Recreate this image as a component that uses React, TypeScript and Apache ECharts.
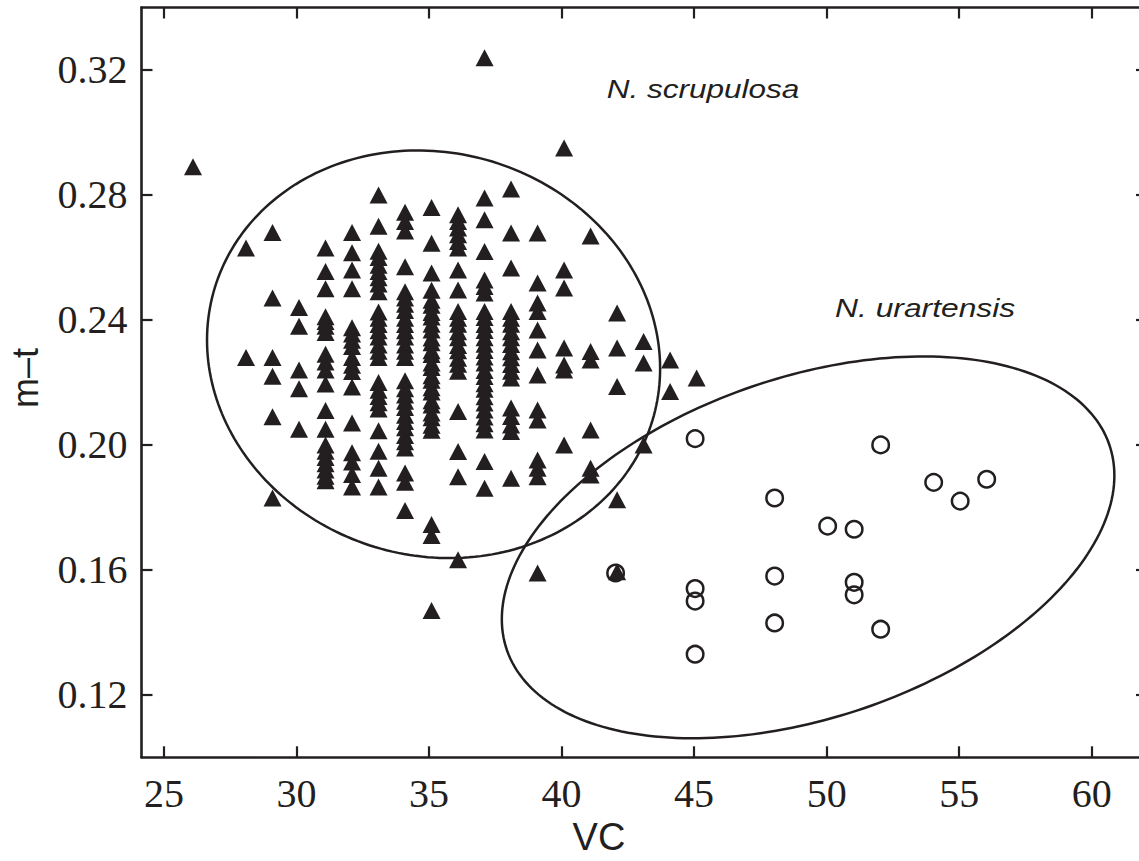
import React, { useEffect, useRef } from "react";
import * as echarts from "echarts";

// Axis ticks
const X_TICKS = [25, 30, 35, 40, 45, 50, 55, 60];
const Y_TICKS = [0.12, 0.16, 0.2, 0.24, 0.28, 0.32];

// N. scrupulosa (triangles): VC columns and their m–t values
const SCRUP_VC = [26, 28, 29, 30, 31, 32, 33, 34, 35, 36, 37, 38, 39, 40, 41, 42, 43, 44, 45];
const SCRUP_MT: number[][] = [
  [0.289],
  [0.263, 0.228],
  [0.268, 0.247, 0.228, 0.222, 0.209, 0.183],
  [0.244, 0.238, 0.224, 0.218, 0.205],
  [0.263, 0.2555, 0.25, 0.241, 0.2395, 0.238, 0.236, 0.229, 0.2265, 0.224, 0.2195, 0.211, 0.205, 0.2, 0.198, 0.196, 0.194, 0.192, 0.19, 0.1885],
  [0.268, 0.2615, 0.256, 0.25, 0.2375, 0.2355, 0.2335, 0.2315, 0.228, 0.2255, 0.2235, 0.2185, 0.207, 0.1975, 0.1945, 0.1905, 0.1865],
  [0.28, 0.27, 0.262, 0.26, 0.2575, 0.2555, 0.2535, 0.2515, 0.249, 0.2425, 0.2405, 0.2385, 0.2365, 0.2345, 0.232, 0.23, 0.228, 0.22, 0.2175, 0.2155, 0.2135, 0.2115, 0.2045, 0.198, 0.1925, 0.1865],
  [0.2745, 0.2715, 0.2685, 0.257, 0.249, 0.247, 0.245, 0.243, 0.2405, 0.2385, 0.2365, 0.2345, 0.232, 0.23, 0.228, 0.2205, 0.218, 0.216, 0.214, 0.212, 0.2095, 0.2075, 0.2055, 0.203, 0.201, 0.199, 0.191, 0.188, 0.179],
  [0.276, 0.2645, 0.255, 0.2495, 0.2463, 0.2447, 0.2424, 0.2409, 0.2386, 0.2368, 0.2342, 0.2327, 0.2301, 0.2289, 0.2262, 0.2248, 0.2221, 0.2207, 0.2183, 0.2169, 0.2141, 0.2128, 0.2102, 0.2087, 0.2063, 0.2047, 0.1745, 0.171, 0.147],
  [0.2737, 0.2715, 0.2694, 0.2673, 0.2651, 0.263, 0.256, 0.2496, 0.2427, 0.2405, 0.2386, 0.2362, 0.2343, 0.2318, 0.2301, 0.2277, 0.2258, 0.2236, 0.2107, 0.1979, 0.1898, 0.1632],
  [0.3239, 0.279, 0.2721, 0.2619, 0.2528, 0.2507, 0.2486, 0.2427, 0.2408, 0.2385, 0.2366, 0.2343, 0.2322, 0.2302, 0.2281, 0.2262, 0.2238, 0.2219, 0.2196, 0.2178, 0.2154, 0.2134, 0.2112, 0.2089, 0.2068, 0.2048, 0.1947, 0.1861],
  [0.2819, 0.2678, 0.2566, 0.2427, 0.2405, 0.2386, 0.2362, 0.2343, 0.2321, 0.2298, 0.2279, 0.2257, 0.2236, 0.2214, 0.2118, 0.2091, 0.2064, 0.2043, 0.1893],
  [0.2678, 0.2518, 0.2454, 0.2427, 0.2368, 0.2304, 0.2224, 0.2112, 0.208, 0.1952, 0.1925, 0.1898, 0.159],
  [0.295, 0.256, 0.2502, 0.231, 0.2256, 0.224, 0.2],
  [0.2669, 0.2299, 0.2272, 0.2048, 0.1925, 0.1904],
  [0.2422, 0.231, 0.2187, 0.1824, 0.1594],
  [0.2331, 0.2262, 0.2],
  [0.2272, 0.2171],
  [0.2214],
];

// N. urartensis (open circles)
const URART_VC = [45, 52, 54, 55, 56, 48, 50, 51, 42, 45, 45, 48, 51, 51, 48, 52, 45];
const URART_MT = [0.202, 0.2, 0.188, 0.182, 0.189, 0.183, 0.174, 0.173, 0.159, 0.154, 0.15, 0.158, 0.156, 0.152, 0.143, 0.141, 0.133];

// Ellipses: [centre VC, centre m–t, half-extent VC, half-extent m–t, phase (deg)]
const ELLIPSE_SCRUP = [35.17, 0.229, 8.547, 0.06524, 94];
const ELLIPSE_URART = [49.3, 0.1672, 11.555, 0.06111, 67.9];

const INK = "#231f20";

export default function App() {
  const ref = useRef<HTMLDivElement>(null);

  useEffect(() => {
    const chart = echarts.init(ref.current!, null, { renderer: "svg" });

    const scrupData: number[][] = [];
    SCRUP_VC.forEach((vc, i) => SCRUP_MT[i].forEach((mt) => scrupData.push([vc, mt])));
    const urartData = URART_VC.map((vc, i) => [vc, URART_MT[i]]);

    const xMin = 24.151;
    const xMax = 62.086;
    const yMin = 0.1;
    const yMax = 0.34;

    const lineStyle = { color: INK, width: 2.6 };
    const tickStyle = { color: INK, width: 2.2 };

    chart.setOption({
      animation: false,
      backgroundColor: "#ffffff",
      grid: {
        left: 141.5,
        top: 7.5,
        width: 1005.5,
        height: 749.8,
        outerBoundsMode: "none",
        containLabel: false,
      },
      xAxis: [
        {
          type: "value",
          position: "bottom",
          min: xMin,
          max: xMax,
          axisLine: { show: true, onZero: false, lineStyle },
          axisTick: { show: true, inside: true, length: 11, lineStyle: tickStyle, customValues: X_TICKS },
          axisLabel: {
            show: true,
            customValues: X_TICKS,
            margin: 16,
            fontFamily: "Liberation Serif",
            fontSize: 40,
            color: INK,
            formatter: (v: number) => String(Math.round(v)),
          },
          splitLine: { show: false },
        },
        {
          type: "value",
          position: "top",
          min: xMin,
          max: xMax,
          axisLine: { show: true, onZero: false, lineStyle },
          axisTick: { show: true, inside: true, length: 11, lineStyle: tickStyle, customValues: X_TICKS },
          axisLabel: { show: false },
          splitLine: { show: false },
        },
      ],
      yAxis: [
        {
          type: "value",
          position: "left",
          min: yMin,
          max: yMax,
          axisLine: { show: true, onZero: false, lineStyle },
          axisTick: { show: true, inside: true, length: 11, lineStyle: tickStyle, customValues: Y_TICKS },
          axisLabel: {
            show: true,
            customValues: Y_TICKS,
            margin: 14,
            fontFamily: "Liberation Serif",
            fontSize: 40,
            color: INK,
            formatter: (v: number) => v.toFixed(2),
          },
          splitLine: { show: false },
        },
        {
          type: "value",
          position: "right",
          min: yMin,
          max: yMax,
          axisLine: { show: true, onZero: false, lineStyle },
          axisTick: { show: true, inside: true, length: 11, lineStyle: tickStyle, customValues: Y_TICKS },
          axisLabel: { show: false },
          splitLine: { show: false },
        },
      ],
      graphic: [
        {
          type: "text",
          x: 606.7,
          y: 88.8,
          scaleX: 1.19,
          style: {
            text: "N. scrupulosa",
            font: 'italic 26.5px "Liberation Sans"',
            fill: INK,
            align: "left",
            verticalAlign: "middle",
          },
        },
        {
          type: "text",
          x: 835,
          y: 308.3,
          scaleX: 1.2,
          style: {
            text: "N. urartensis",
            font: 'italic 26.5px "Liberation Sans"',
            fill: INK,
            align: "left",
            verticalAlign: "middle",
          },
        },
        {
          type: "text",
          x: 599,
          y: 837,
          style: {
            text: "VC",
            font: '38px "Liberation Sans"',
            fill: INK,
            align: "center",
            verticalAlign: "middle",
          },
        },
        {
          type: "text",
          x: 25,
          y: 378,
          rotation: Math.PI / 2,
          style: {
            text: "m–t",
            font: '36px "Liberation Sans"',
            fill: INK,
            align: "center",
            verticalAlign: "middle",
          },
        },
      ],
      series: [
        {
          type: "custom",
          name: "ellipses",
          xAxisIndex: 0,
          yAxisIndex: 0,
          silent: true,
          clip: false,
          z: 1,
          data: [ELLIPSE_SCRUP, ELLIPSE_URART],
          encode: { x: 0, y: 1 },
          renderItem: (_params: any, api: any) => {
            const cx = api.value(0) as number;
            const cy = api.value(1) as number;
            const rx = api.value(2) as number;
            const ry = api.value(3) as number;
            const d = ((api.value(4) as number) * Math.PI) / 180;
            const pts: number[][] = [];
            const n = 240;
            for (let i = 0; i < n; i++) {
              const t = (i / n) * Math.PI * 2;
              pts.push(api.coord([cx + rx * Math.cos(t), cy + ry * Math.cos(t - d)]));
            }
            return {
              type: "polygon",
              shape: { points: pts },
              style: { fill: "none", stroke: INK, lineWidth: 2.5 },
              silent: true,
            };
          },
        },
        {
          type: "scatter",
          name: "N. scrupulosa",
          xAxisIndex: 0,
          yAxisIndex: 0,
          z: 3,
          symbol: "triangle",
          symbolSize: [18, 17],
          symbolOffset: [2.5, 0],
          itemStyle: { color: INK, opacity: 1 },
          data: scrupData,
        },
        {
          type: "scatter",
          name: "N. urartensis",
          xAxisIndex: 0,
          yAxisIndex: 0,
          z: 4,
          symbol: "circle",
          symbolSize: 16.5,
          symbolOffset: [1, 0],
          itemStyle: { color: "rgba(0,0,0,0)", borderColor: INK, borderWidth: 2.5, opacity: 1 },
          data: urartData,
        },
      ],
    });

    return () => chart.dispose();
  }, []);

  return (
    <div
      ref={ref}
      style={{ position: "fixed", left: 0, top: 0, width: 1139, height: 861, background: "#ffffff" }}
    />
  );
}
